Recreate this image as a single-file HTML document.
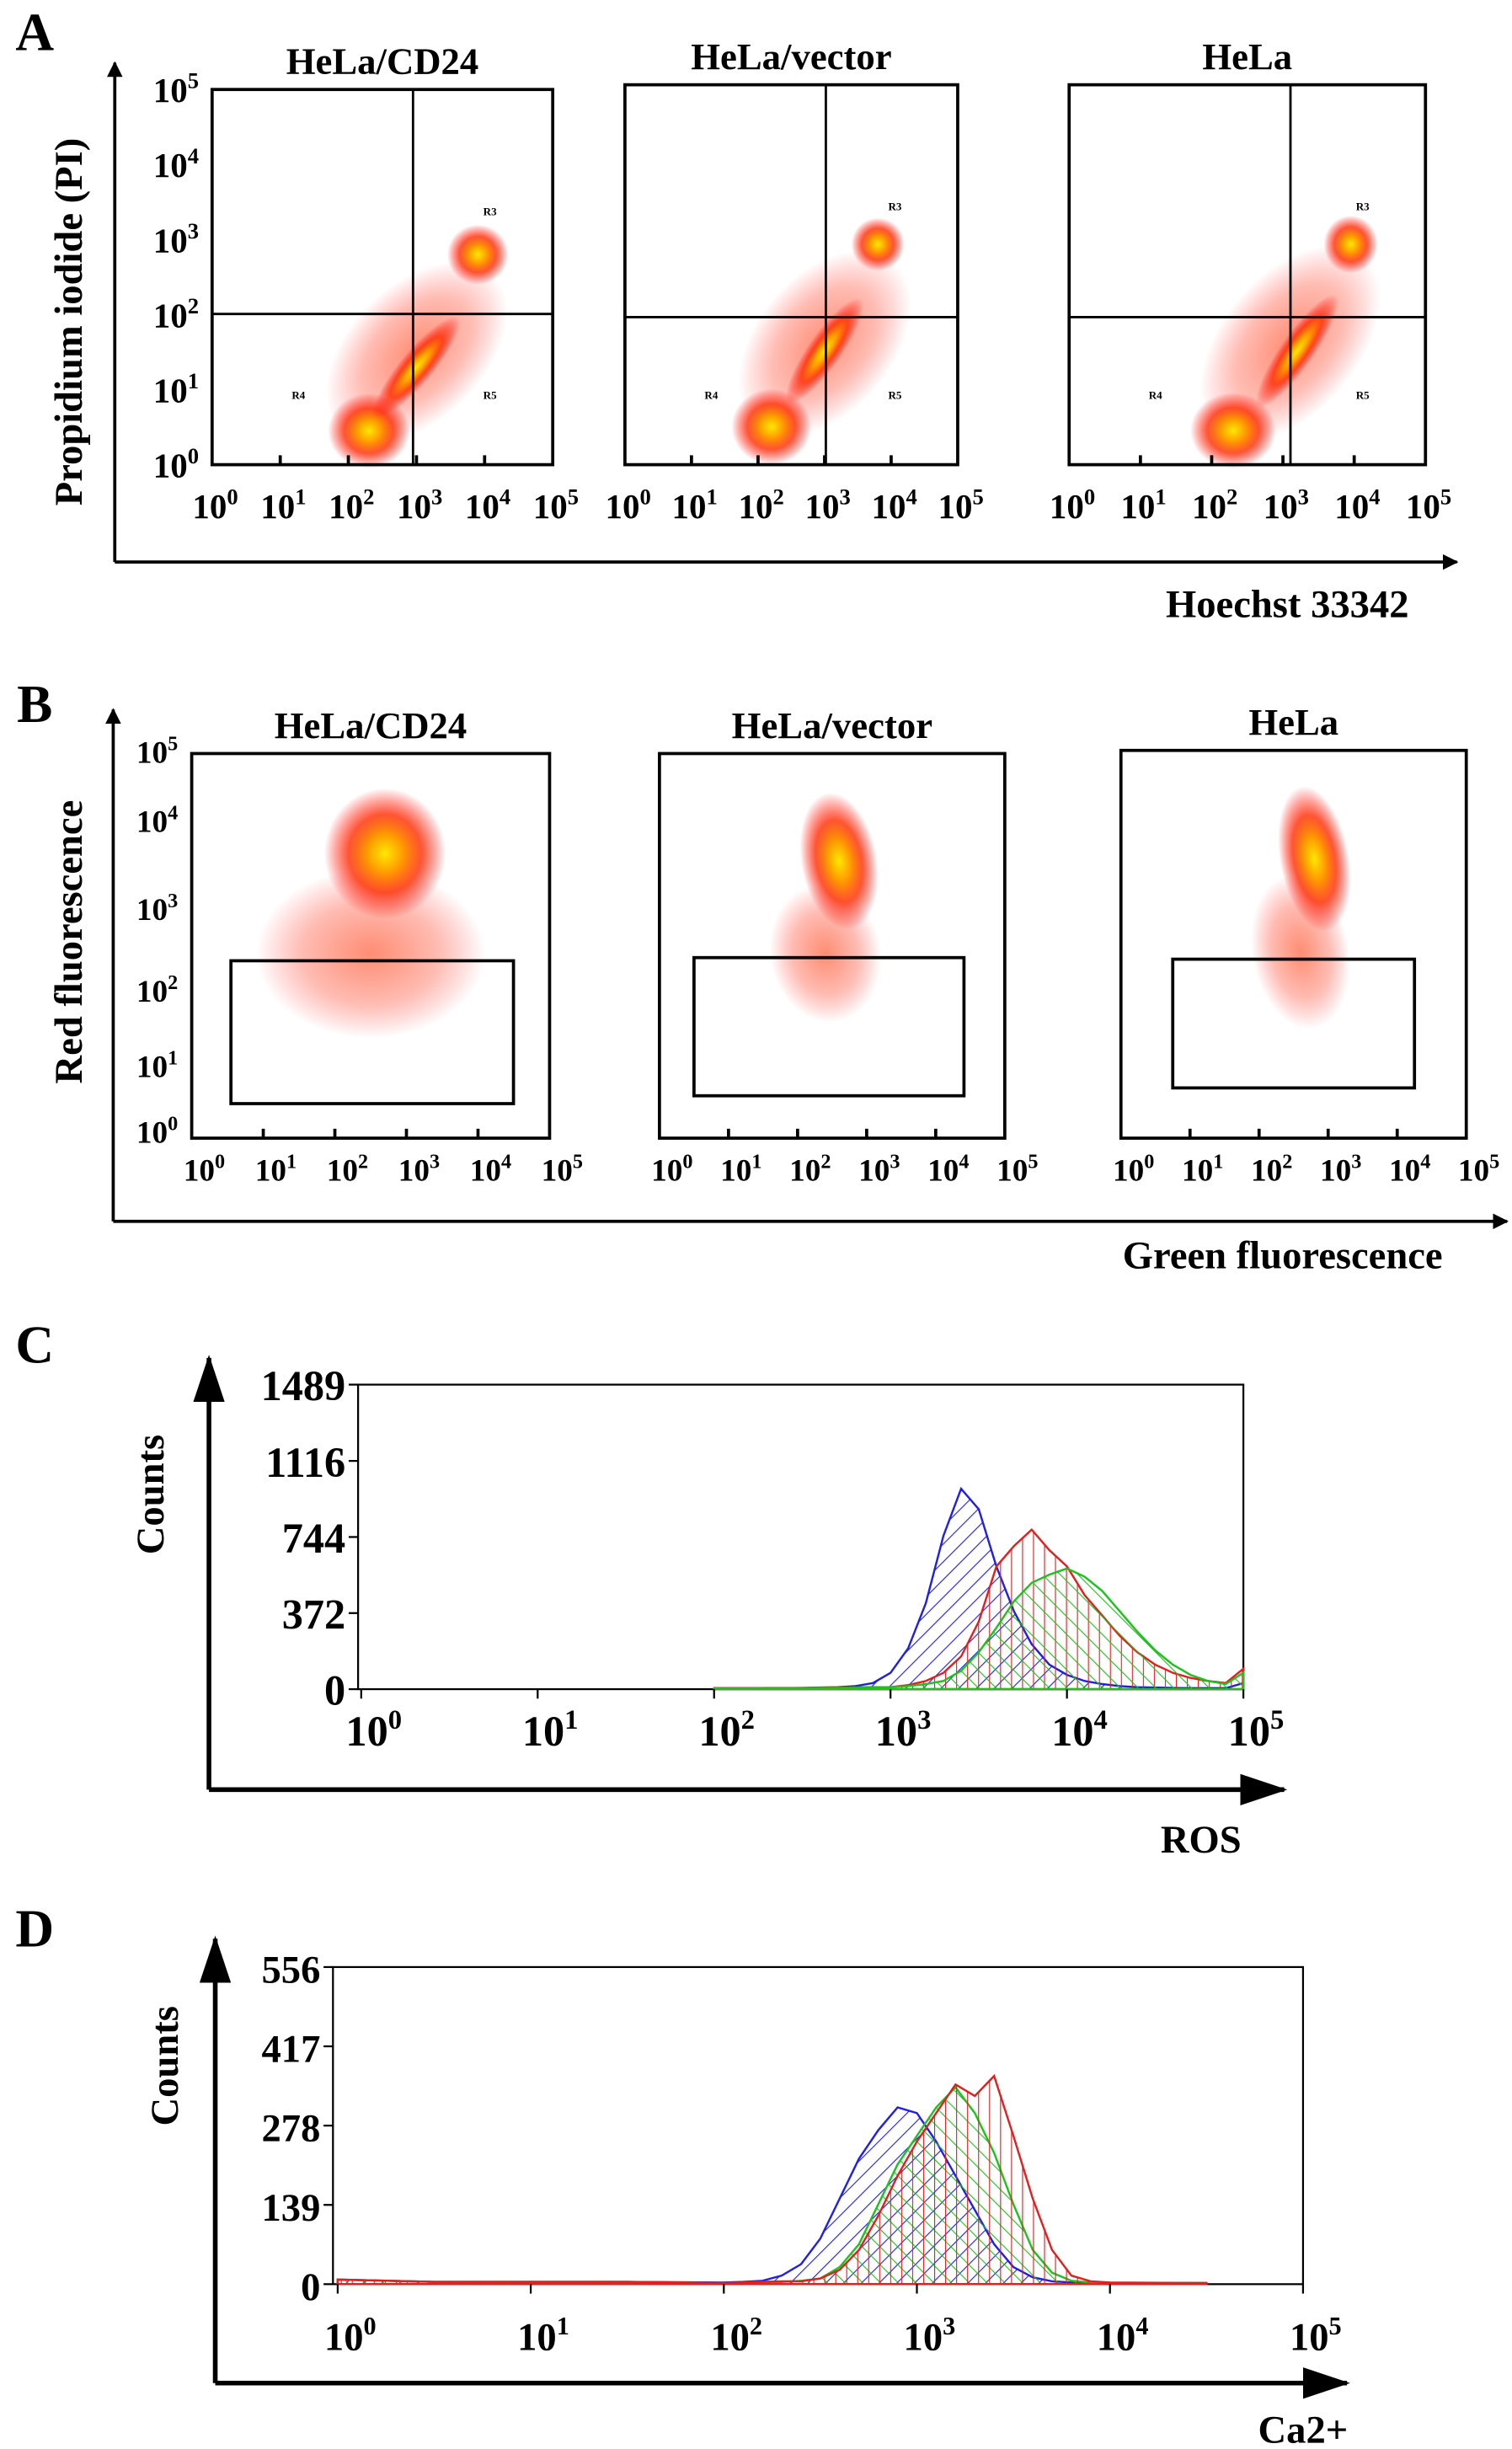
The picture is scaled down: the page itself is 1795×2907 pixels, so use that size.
<!DOCTYPE html>
<html><head><meta charset="utf-8"><style>
html,body{margin:0;padding:0;background:#fff}
svg{display:block}
text{font-family:"Liberation Serif",serif;font-weight:bold;fill:#000}
</style></head><body>
<svg id="fig" width="1795" height="2907" viewBox="0 0 963 1560" xmlns="http://www.w3.org/2000/svg">
<defs>
<radialGradient id="blob"><stop offset="0" stop-color="#ffe800"/><stop offset="0.3" stop-color="#ff9a00"/><stop offset="0.6" stop-color="#ff2a00" stop-opacity="0.8"/><stop offset="1" stop-color="#ff0000" stop-opacity="0"/></radialGradient>
<radialGradient id="sparse"><stop offset="0" stop-color="#ff3000" stop-opacity="0.55"/><stop offset="0.6" stop-color="#ff2000" stop-opacity="0.3"/><stop offset="1" stop-color="#ff0000" stop-opacity="0"/></radialGradient>
<pattern id="hBlue" width="8" height="8" patternUnits="userSpaceOnUse" patternTransform="rotate(45)"><line x1="0" y1="0" x2="0" y2="8" stroke="#2020e0" stroke-width="1.2"/></pattern>
<pattern id="hRed" width="7" height="7" patternUnits="userSpaceOnUse"><line x1="0" y1="0" x2="0" y2="7" stroke="#e02020" stroke-width="1.2"/></pattern>
<pattern id="hGreen" width="8" height="8" patternUnits="userSpaceOnUse" patternTransform="rotate(-45)"><line x1="0" y1="0" x2="0" y2="8" stroke="#20c020" stroke-width="1.2"/></pattern>
<marker id="arr" markerWidth="10" markerHeight="10" refX="9" refY="5" orient="auto" markerUnits="userSpaceOnUse"><path d="M0,0 L10,5 L0,10 z" fill="#000"/></marker>
<marker id="arrBig" markerWidth="30" markerHeight="20" refX="28" refY="10" orient="auto" markerUnits="userSpaceOnUse"><path d="M0,0 L30,10 L0,20 z" fill="#000"/></marker>
</defs>
<g id="root"></g>
</svg>
<script>
// ---- data ----
const panelATitles = ["HeLa/CD24","HeLa/vector","HeLa"];
const panelBTitles = ["HeLa/CD24","HeLa/vector","HeLa"];
const decadeExps = [0,1,2,3,4,5];
// scatter clusters in log units: [x, y, rx, ry, angleDeg, dense(1)/sparse(0)]
const clustersA = [
  [[3.0,1.5,1.6,0.9,-45,0],[2.3,0.45,0.6,0.5,0,1],[3.0,1.3,0.95,0.22,-50,1],[3.9,2.8,0.45,0.4,0,1]],
  [[3.0,1.6,1.6,0.9,-50,0],[2.2,0.5,0.6,0.5,0,1],[3.0,1.5,0.95,0.22,-55,1],[3.8,2.9,0.4,0.35,0,1]],
  [[3.1,1.6,1.6,0.9,-50,0],[2.3,0.45,0.6,0.5,0,1],[3.2,1.5,0.95,0.22,-55,1],[3.95,2.9,0.38,0.38,0,1]]
];
const clustersB = [
  [[2.5,2.4,1.6,1.1,0,0],[2.7,3.7,0.85,0.85,0,1]],
  [[2.4,2.4,0.8,0.9,-10,0],[2.6,3.6,0.55,0.9,-10,1]],
  [[2.6,2.4,0.7,1.0,-10,0],[2.8,3.6,0.5,0.95,-10,1]]
];
const rosBins = [2.0,2.1,2.2,2.3,2.4,2.5,2.6,2.7,2.8,2.9,3.0,3.1,3.2,3.3,3.4,3.5,3.6,3.7,3.8,3.9,4.0,4.1,4.2,4.3,4.4,4.5,4.6,4.7,4.8,4.9,5.0];
const rosBlue  = [5,5,5,5,5,6,8,10,15,30,80,200,420,750,980,880,600,380,220,120,70,40,25,15,10,8,6,5,5,5,30];
const rosRed   = [5,5,5,6,6,6,7,8,9,10,10,20,40,80,160,330,600,700,780,680,600,460,360,260,180,120,80,55,40,30,100];
const rosGreen = [4,4,4,5,5,5,6,6,7,8,10,15,25,40,90,180,300,430,520,560,590,550,480,380,280,190,120,70,40,25,80];
const rosTicks = [0,372,744,1116,1489];
const caBins = [0.0,0.5,1.0,1.5,2.0,2.1,2.2,2.3,2.4,2.5,2.6,2.7,2.8,2.9,3.0,3.1,3.2,3.3,3.4,3.5,3.6,3.7,3.8,3.9,4.0,4.5];
const caBlue  = [8,4,4,4,3,4,6,15,35,80,150,220,270,310,300,250,190,130,70,30,12,5,3,2,2,2];
const caRed   = [8,4,4,4,2,3,4,5,5,10,25,60,120,190,250,300,350,330,365,260,150,60,15,5,3,2];
const caGreen = [8,4,4,4,2,2,3,4,6,10,30,70,140,210,260,310,345,300,230,140,60,20,6,3,2,2];
const caTicks = [0,139,278,417,556];

const NS="http://www.w3.org/2000/svg";
const root=document.getElementById('root');
function mk(tag,attrs,parent){const e=document.createElementNS(NS,tag);for(const k in attrs)e.setAttribute(k,attrs[k]);(parent||root).appendChild(e);return e;}
function txt(x,y,s,size,anchor,parent){const t=mk('text',{x:x,y:y,'font-size':size,'text-anchor':anchor||'middle'},parent);t.textContent=s;return t;}
function pow10(x,y,e,size,parent){const t=mk('text',{x:x,y:y,'font-size':size,'text-anchor':'middle'},parent);
  const a=document.createElementNS(NS,'tspan');a.textContent='10';t.appendChild(a);
  const b=document.createElementNS(NS,'tspan');b.setAttribute('dy',-size*0.4);b.setAttribute('font-size',size*0.65);b.textContent=e;t.appendChild(b);return t;}
function blob(g,c,sx,sy,w,h){
  const e=mk('ellipse',{cx:sx(c[0]),cy:sy(c[1]),rx:w*c[2]/5,ry:h*c[3]/5,fill:c[5]?'url(#blob)':'url(#sparse)',transform:`rotate(${c[4]} ${sx(c[0])} ${sy(c[1])})`},g);
  
  
}

// ---- panel letters ----
[["A",22,32],["B",22,460],["C",22,868],["D",22,1240]].forEach(p=>{const t=txt(p[1],p[2],p[0],34);

});

// ---- panel A ----
const boxesA=[[135,57,352,296,263,200],[398,54,610,296,526,202],[681,54,908,296,822,202]];
boxesA.forEach((b,i)=>{
  const g=mk('g',{});
  
  
  const [x0,y0,x1,y1,qx,qy]=b, sx=v=>x0+(x1-x0)*v/5, sy=v=>y1-(y1-y0)*v/5;
  clustersA[i].forEach(c=>blob(g,c,sx,sy,x1-x0,y1-y0));
  mk('rect',{x:x0,y:y0,width:x1-x0,height:y1-y0,fill:'none',stroke:'#000','stroke-width':2},g);
  mk('line',{x1:qx,y1:y0,x2:qx,y2:y1,stroke:'#000','stroke-width':1.5},g);
  mk('line',{x1:x0,y1:qy,x2:x1,y2:qy,stroke:'#000','stroke-width':1.5},g);
  [["R3",x1-40,y0+80],["R4",x0+55,y1-42],["R5",x1-40,y1-42]].forEach(r=>{const t=txt(r[1],r[2],r[0],7);t.setAttribute('font-weight','normal');});
  const tt=txt((x0+x1)/2,y0-10,panelATitles[i],24);
  
  
  decadeExps.forEach(e=>{pow10(sx(e)+2,330,e,22,g);if(e>0&&e<5)mk('line',{x1:sx(e),y1:y1,x2:sx(e),y2:y1-6,stroke:'#000','stroke-width':2},g);});
});
decadeExps.forEach(e=>{const y=296-(239)*e/5;pow10(112,y+8,e,22);});
mk('line',{x1:73,y1:358,x2:73,y2:40,stroke:'#000','stroke-width':2,'marker-end':'url(#arr)'});
mk('line',{x1:73,y1:358,x2:928,y2:358,stroke:'#000','stroke-width':2,'marker-end':'url(#arr)'});
let t=txt(0,0,'Propidium iodide (PI)',25);t.setAttribute('transform','translate(52,205) rotate(-90)');


t=txt(820,393,'Hoechst 33342',25);



// ---- panel B ----
const boxesB=[[122,480,350,725,147,612,327,703],[420,480,640,725,442,610,614,698],[714,478,934,725,747,611,901,693]];
boxesB.forEach((b,i)=>{
  const g=mk('g',{});
  
  
  const [x0,y0,x1,y1,gx0,gy0,gx1,gy1]=b, sx=v=>x0+(x1-x0)*v/5, sy=v=>y1-(y1-y0)*v/5;
  clustersB[i].forEach(c=>blob(g,c,sx,sy,x1-x0,y1-y0));
  mk('rect',{x:x0,y:y0,width:x1-x0,height:y1-y0,fill:'none',stroke:'#000','stroke-width':2},g);
  mk('rect',{x:gx0,y:gy0,width:gx1-gx0,height:gy1-gy0,fill:'none',stroke:'#000','stroke-width':2},g);
  const tt=txt((x0+x1)/2,y0-10,panelBTitles[i],24);
  
  
  decadeExps.forEach(e=>{pow10(sx(e)+8,752,e,20,g);if(e>0&&e<5)mk('line',{x1:sx(e),y1:y1,x2:sx(e),y2:y1-6,stroke:'#000','stroke-width':2},g);});
});
[[0,720],[1,678],[2,630],[3,578],[4,522],[5,478]].forEach(p=>pow10(100,p[1]+8,p[0],20));
mk('line',{x1:72,y1:778,x2:72,y2:452,stroke:'#000','stroke-width':2,'marker-end':'url(#arr)'});
mk('line',{x1:72,y1:778,x2:960,y2:778,stroke:'#000','stroke-width':2,'marker-end':'url(#arr)'});
t=txt(0,0,'Red fluorescence',25);t.setAttribute('transform','translate(52,600) rotate(-90)');


t=txt(817,808,'Green fluorescence',25);



// ---- histograms ----
function hist(cfg){
  const g=mk('g',{});
  
  
  const {x0,x1,y0,y1,decX0,decW,max}=cfg;
  const sx=v=>decX0+decW*v, sy=v=>y1-(y1-y0)*v/max;
  mk('rect',{x:x0,y:y0,width:x1-x0,height:y1-y0,fill:'none',stroke:'#000','stroke-width':1.2},g);
  cfg.series.forEach(s=>{
    let d=`M${sx(cfg.bins[0])},${sy(0)}`;
    cfg.bins.forEach((b,i)=>{d+=` L${sx(b)},${sy(s.vals[i])}`;});
    d+=` L${sx(cfg.bins[cfg.bins.length-1])},${sy(0)} Z`;
    const p=mk('path',{d:d,fill:`url(#${s.pat})`,stroke:s.col,'stroke-width':1.3},g);
    
    
  });
  cfg.ticks.forEach(v=>{mk('line',{x1:x0-6,y1:sy(v),x2:x0,y2:sy(v),stroke:'#000','stroke-width':1.2},g);
    txt(x0-8,sy(v)+10,String(v),cfg.fs,'end',g);});
  decadeExps.forEach(e=>{mk('line',{x1:sx(e),y1:y1,x2:sx(e),y2:y1+6,stroke:'#000','stroke-width':1.2},g);
    pow10(sx(e)+cfg.lblDx,y1+cfg.lblDy,e,cfg.fs,g);});
  return g;
}
hist({name:'ros-histogram',x0:228,x1:792,y0:882,y1:1076,decX0:230,decW:112.4,max:1489,bins:rosBins,ticks:rosTicks,fs:27,lblDx:8,lblDy:36,
  series:[{vals:rosBlue,col:'#2020e0',pat:'hBlue',label:'series-blue'},{vals:rosRed,col:'#e02020',pat:'hRed',label:'series-red'},{vals:rosGreen,col:'#20c020',pat:'hGreen',label:'series-green'}]});
mk('line',{x1:133,y1:1140,x2:133,y2:865,stroke:'#000','stroke-width':3,'marker-end':'url(#arrBig)'});
mk('line',{x1:133,y1:1140,x2:818,y2:1140,stroke:'#000','stroke-width':3,'marker-end':'url(#arrBig)'});
t=txt(0,0,'Counts',25);t.setAttribute('transform','translate(104,952) rotate(-90)');


t=txt(765,1180,'ROS',25);



hist({name:'calcium-histogram',x0:212,x1:830,y0:1253,y1:1455,decX0:215,decW:123,max:556,bins:caBins,ticks:caTicks,fs:25,lblDx:8,lblDy:42,
  series:[{vals:caBlue,col:'#2020e0',pat:'hBlue',label:'series-blue'},{vals:caGreen,col:'#20c020',pat:'hGreen',label:'series-green'},{vals:caRed,col:'#e02020',pat:'hRed',label:'series-red'}]});
mk('line',{x1:137,y1:1518,x2:137,y2:1235,stroke:'#000','stroke-width':3,'marker-end':'url(#arrBig)'});
mk('line',{x1:137,y1:1518,x2:858,y2:1518,stroke:'#000','stroke-width':3,'marker-end':'url(#arrBig)'});
t=txt(0,0,'Counts',25);t.setAttribute('transform','translate(113,1316) rotate(-90)');


t=txt(830,1556,'Ca2+',25);


</script>
</body></html>
